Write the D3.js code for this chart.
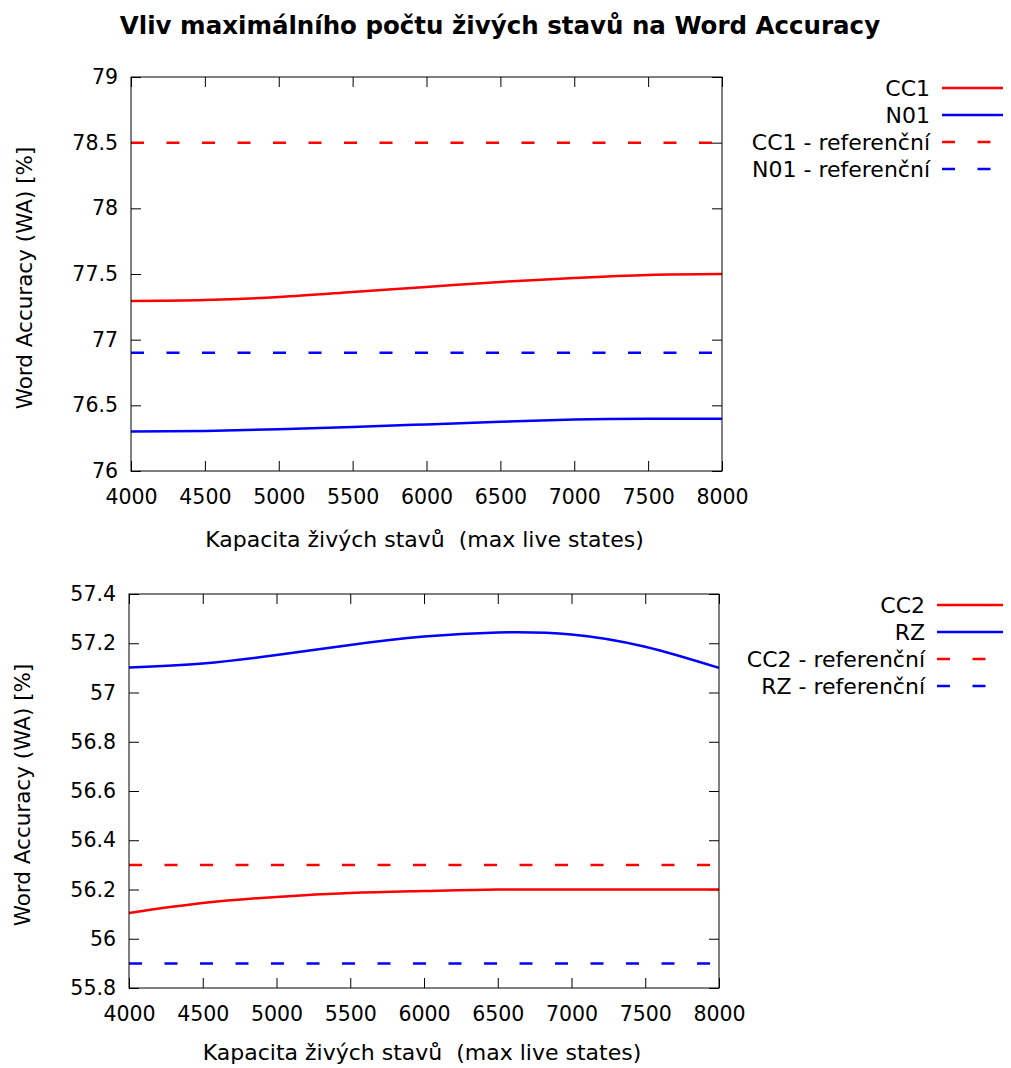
<!DOCTYPE html>
<html><head><meta charset="utf-8">
<script src="https://cdn.jsdelivr.net/npm/d3@7"></script>
<style>body{margin:0;background:#fff}svg{display:block}text{font-family:"DejaVu Sans",sans-serif;white-space:pre}</style>
</head><body>
<svg id="c" width="1011" height="1068"></svg>
<script>
const title = "Vliv maximálního počtu živých stavů na Word Accuracy";
const xLabel = "Kapacita živých stavů  (max live states)";
const yLabel = "Word Accuracy (WA) [%]";
const xValues = [4000, 4500, 5000, 5500, 6000, 6500, 7000, 7500, 8000];
const xTicks = [4000, 4500, 5000, 5500, 6000, 6500, 7000, 7500, 8000];

// top panel
const cc1 = [77.295, 77.302, 77.325, 77.363, 77.401, 77.44, 77.47, 77.493, 77.50];
const n01 = [76.30, 76.305, 76.318, 76.335, 76.355, 76.375, 76.392, 76.398, 76.397];
const cc1Ref = 78.5;
const n01Ref = 76.9;
const topYTicks = [76, 76.5, 77, 77.5, 78, 78.5, 79];
const topNames = ["CC1", "N01", "CC1 - referenční", "N01 - referenční"];

// bottom panel
const cc2 = [56.105, 56.145, 56.17, 56.186, 56.194, 56.2, 56.2, 56.2, 56.2];
const rz = [57.102, 57.118, 57.152, 57.193, 57.227, 57.244, 57.236, 57.186, 57.10];
const cc2Ref = 56.3;
const rzRef = 55.9;
const botYTicks = [55.8, 56, 56.2, 56.4, 56.6, 56.8, 57, 57.2, 57.4];
const botNames = ["CC2", "RZ", "CC2 - referenční", "RZ - referenční"];

const RED = "#ff0000", BLUE = "#0000ff";
const svg = d3.select("#c");

svg.append("text").attr("x", 500).attr("y", 34).attr("text-anchor", "middle")
  .attr("font-weight", "bold").attr("font-size", 24.5).text(title);

function panel(cfg) {
  const x = d3.scaleLinear().domain([4000, 8000]).range([cfg.left, cfg.right]);
  const y = d3.scaleLinear().domain(cfg.yDomain).range([cfg.bottom, cfg.top]);
  const g = svg.append("g");
  const tickLen = 10;
  const fmt = d => String(+d.toFixed(2));
  const axB = d3.axisBottom(x).tickValues(xTicks).tickSize(-tickLen).tickPadding(18).tickFormat(fmt);
  const axT = d3.axisTop(x).tickValues(xTicks).tickSize(-tickLen).tickFormat("");
  const axL = d3.axisLeft(y).tickValues(cfg.yTicks).tickSize(-tickLen).tickPadding(13).tickFormat(fmt);
  const axR = d3.axisRight(y).tickValues(cfg.yTicks).tickSize(-tickLen).tickFormat("");
  const style = sel => {
    sel.selectAll(".domain").remove();
    sel.selectAll("line").attr("stroke", "#000");
    sel.selectAll("text").attr("font-size", 20.5).attr("fill", "#000")
      .style("font-family", '"DejaVu Sans", sans-serif');
  };
  g.append("g").attr("transform", `translate(0,${cfg.bottom})`).call(axB).call(style);
  g.append("g").attr("transform", `translate(0,${cfg.top})`).call(axT).call(style);
  g.append("g").attr("transform", `translate(${cfg.left},0)`).call(axL).call(style);
  g.append("g").attr("transform", `translate(${cfg.right},0)`).call(axR).call(style);

  const line = d3.line().x((d, i) => x(xValues[i])).y(d => y(d)).curve(d3.curveNatural);
  const refLine = v => [[4000, v], [8000, v]];
  const lr = d3.line().x(d => x(d[0])).y(d => y(d[1]));
  g.append("path").attr("d", lr(refLine(cfg.refs[0]))).attr("stroke", RED).attr("stroke-width", 2.5)
    .attr("stroke-dasharray", "13,22.5").attr("fill", "none");
  g.append("path").attr("d", lr(refLine(cfg.refs[1]))).attr("stroke", BLUE).attr("stroke-width", 2.5)
    .attr("stroke-dasharray", "13,22.5").attr("fill", "none");
  g.append("path").datum(cfg.s1).attr("d", line).attr("stroke", RED).attr("stroke-width", 2.5).attr("fill", "none");
  g.append("path").datum(cfg.s2).attr("d", line).attr("stroke", BLUE).attr("stroke-width", 2.5).attr("fill", "none");

  g.append("rect").attr("x", cfg.left).attr("y", cfg.top).attr("width", cfg.right - cfg.left)
    .attr("height", cfg.bottom - cfg.top).attr("fill", "none").attr("stroke", "#000").attr("stroke-width", 1);

  g.append("text").attr("x", (cfg.left + cfg.right) / 2 - 2).attr("y", cfg.bottom + cfg.xLabelOff)
    .attr("text-anchor", "middle").attr("font-size", 22).text(xLabel);
  g.append("text").attr("transform", `translate(${cfg.left - 99},${(cfg.top + cfg.bottom) / 2 + 4}) rotate(-90)`)
    .attr("text-anchor", "middle").attr("font-size", 21.5).text(yLabel);

  const colors = [RED, BLUE, RED, BLUE];
  cfg.names.forEach((n, i) => {
    const ly = cfg.legendY + i * 27;
    g.append("text").attr("x", cfg.legendTextX).attr("y", ly + 7.5).attr("text-anchor", "end")
      .attr("font-size", 22).text(n);
    g.append("line").attr("x1", cfg.legendTextX + 12).attr("x2", 1003).attr("y1", ly).attr("y2", ly)
      .attr("stroke", colors[i]).attr("stroke-width", 2.5)
      .attr("stroke-dasharray", i >= 2 ? "13,22.5" : null);
  });
}

panel({left: 131, right: 722, top: 77, bottom: 471, yDomain: [76, 79], yTicks: topYTicks,
  s1: cc1, s2: n01, refs: [cc1Ref, n01Ref], names: topNames, legendY: 88, legendTextX: 930, xLabelOff: 76});
panel({left: 129, right: 719, top: 594, bottom: 988, yDomain: [55.8, 57.4], yTicks: botYTicks,
  s1: cc2, s2: rz, refs: [cc2Ref, rzRef], names: botNames, legendY: 605, legendTextX: 925, xLabelOff: 72});
</script>
</body></html>
